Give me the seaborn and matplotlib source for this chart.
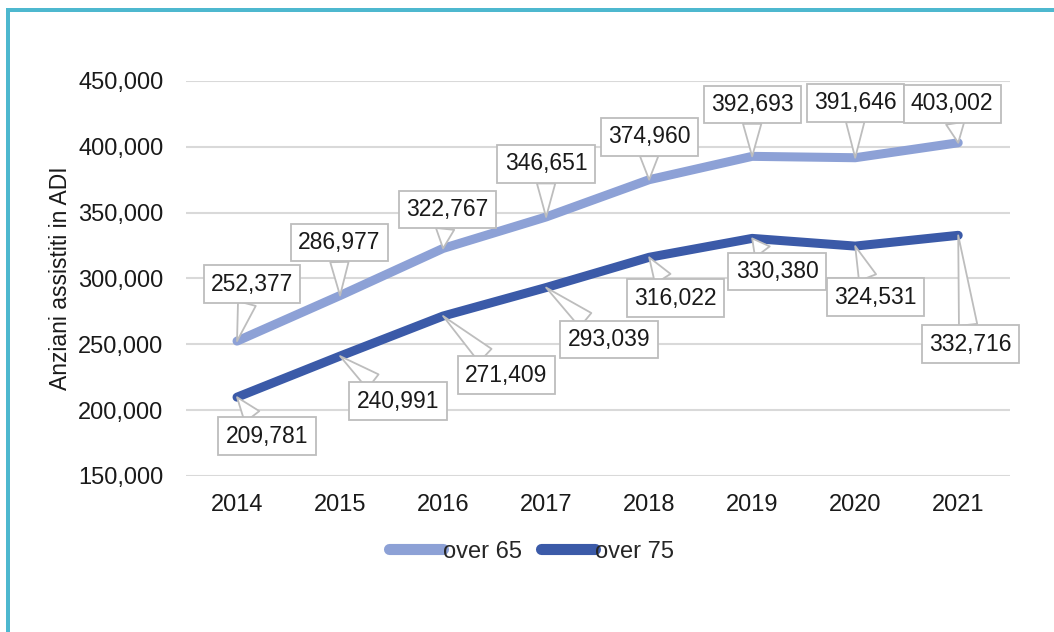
import matplotlib
matplotlib.use("Agg")
import matplotlib.pyplot as plt
import matplotlib.ticker as mticker
from matplotlib.patches import Rectangle
import seaborn as sns
import pandas as pd

years = ["2014", "2015", "2016", "2017", "2018", "2019", "2020", "2021"]
over65 = [252377, 286977, 322767, 346651, 374960, 392693, 391646, 403002]
over75 = [209781, 240991, 271409, 293039, 316022, 330380, 324531, 332716]
series_names = ["over 65", "over 75"]
y_label = "Anziani assistiti in ADI"

# label box offsets (pixels) from each point
off65 = [(15, 57), (-1, 53), (4, 39), (0, 53), (0, 43), (0, 52), (0, 55), (-6, 39)]
off75 = [(30, -39), (58, -45), (63, -59), (63, -52), (26, -41), (25, -33), (20, -51), (12, -109)]

df = pd.DataFrame({
    "anno": years * 2,
    "valore": over65 + over75,
    "serie": [series_names[0]] * len(years) + [series_names[1]] * len(years),
})

sns.set_theme(style="white")
plt.rcParams["font.family"] = ["Liberation Sans", "DejaVu Sans"]

fig = plt.figure(figsize=(10.54, 6.32), dpi=100)
ax = fig.add_axes([0.176, 0.247, 0.782, 0.625])

c65 = "#8DA1D6"
c75 = "#3B5AA8"
sns.lineplot(data=df, x="anno", y="valore", hue="serie",
             palette={series_names[0]: c65, series_names[1]: c75},
             linewidth=6.5, ax=ax, legend=True, sort=False)
for ln in ax.get_lines():
    ln.set_solid_capstyle("round")
    ln.set_solid_joinstyle("round")

ax.set_ylim(150000, 450000)
ax.set_xlim(-0.5, len(years) - 0.5)
ax.yaxis.set_major_locator(mticker.MultipleLocator(50000))
ax.yaxis.set_major_formatter(mticker.FuncFormatter(lambda v, p: f"{int(v):,}"))
ax.grid(axis="y", color="#D9D9D9", linewidth=1.5)
ax.set_axisbelow(True)
for s in ax.spines.values():
    s.set_visible(False)
ax.tick_params(axis="both", labelsize=17, colors="#1a1a1a", length=0)
ax.tick_params(axis="x", pad=13)
ax.tick_params(axis="y", pad=16)
ax.set_xlabel("")
ax.set_ylabel(y_label, fontsize=16.5, color="#1a1a1a")
ax.yaxis.set_label_coords(-0.138, 0.5)

def label_points(values, offsets):
    for i, (v, (dx, dy)) in enumerate(zip(values, offsets)):
        ax.annotate(f"{v:,}", xy=(i, v), xytext=(dx, dy), textcoords="offset pixels",
                    ha="center", va="center", fontsize=16.5, color="#1a1a1a", zorder=5,
                    bbox=dict(boxstyle="square,pad=0.32", fc="white", ec="#BDBDBD", lw=1.3),
                    arrowprops=dict(arrowstyle="wedge,tail_width=0.8,shrink_factor=0.5",
                                    fc="white", ec="#BDBDBD", lw=1.3, shrinkA=0, shrinkB=0))

label_points(over65, off65)
label_points(over75, off75)

handles, labels = ax.get_legend_handles_labels()
for h in handles:
    h.set_linewidth(8)
    h.set_solid_capstyle("round")
ax.legend(handles, labels, loc="upper center", bbox_to_anchor=(0.42, -0.11), ncol=2,
          frameon=False, fontsize=17, handlelength=2.3, handletextpad=0.0,
          columnspacing=0.8)

# teal frame along left and top
teal = "#4DB8CF"
fig.add_artist(Rectangle((6 / 1054, 0), 4 / 1054, 1 - 8 / 632, transform=fig.transFigure,
                         color=teal, lw=0))
fig.add_artist(Rectangle((6 / 1054, 1 - 12 / 632), 1, 4 / 632, transform=fig.transFigure,
                         color=teal, lw=0))

fig.savefig("out.png", dpi=100)
